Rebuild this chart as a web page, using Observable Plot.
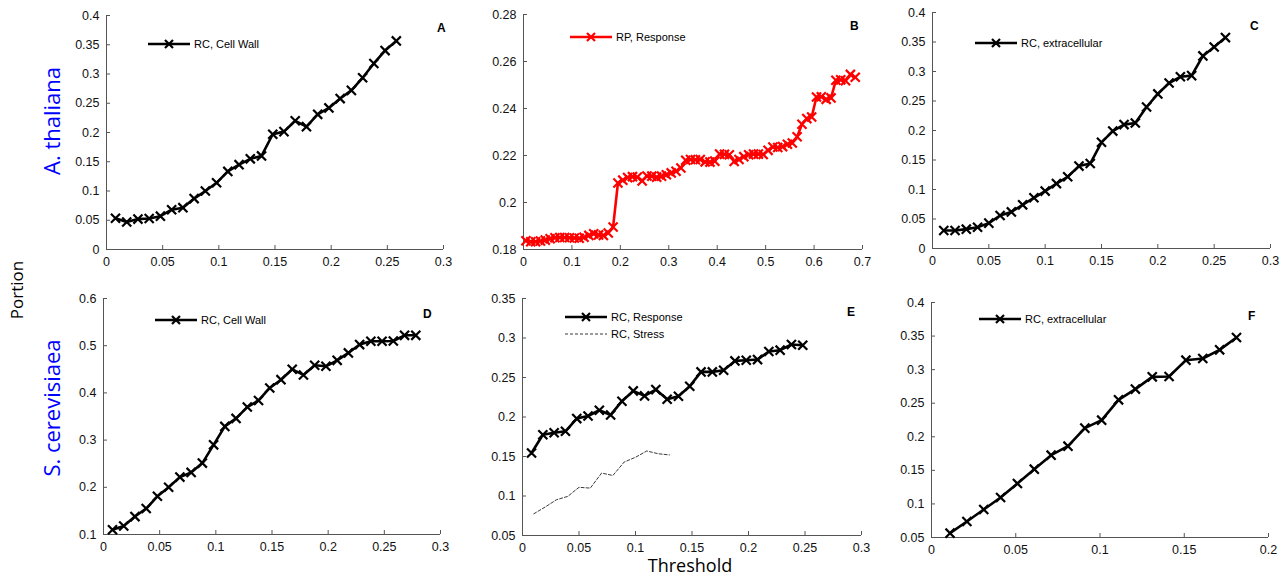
<!DOCTYPE html>
<html><head><meta charset="utf-8">
<script src="https://cdn.jsdelivr.net/npm/d3@7"></script>
<script src="https://cdn.jsdelivr.net/npm/@observablehq/plot@0.6"></script>
<style>
body{margin:0;background:#fff;}
#wrap{position:relative;width:1286px;height:578px;overflow:hidden;background:#fff;font-family:"Liberation Sans",Arial,sans-serif;}
.p{position:absolute;}
.lab{position:absolute;white-space:nowrap;line-height:1;font-family:"Open Sans","Noto Sans",sans-serif;}
.leg{position:absolute;white-space:nowrap;font-size:11px;line-height:1;display:flex;align-items:center;}
.leg svg{margin-right:4px;}
.let{position:absolute;font-weight:bold;font-size:12px;line-height:1;}
</style></head><body><div id="wrap"></div>
<script>
// ---- Panel A: A. thaliana, RC, Cell Wall ----
const xA = [0.008,0.018,0.028,0.038,0.048,0.058,0.068,0.078,0.088,0.098,0.108,0.118,0.128,0.138,0.148,0.158,0.168,0.178,0.188,0.198,0.208,0.218,0.228,0.238,0.248,0.258];
const yA = [0.0535,0.047,0.052,0.053,0.057,0.068,0.0715,0.087,0.100,0.114,0.1335,0.145,0.155,0.160,0.197,0.2015,0.220,0.210,0.231,0.242,0.258,0.272,0.2935,0.318,0.340,0.3566];
// ---- Panel B: A. thaliana, RP, Response ----
const xB = [0.005,0.015,0.025,0.035,0.045,0.055,0.065,0.075,0.085,0.095,0.105,0.115,0.125,0.135,0.145,0.155,0.165,0.175,0.185,0.195,0.205,0.215,0.225,0.235,0.245,0.255,0.265,0.275,0.285,0.295,0.305,0.315,0.325,0.335,0.345,0.355,0.365,0.375,0.385,0.395,0.405,0.415,0.425,0.435,0.445,0.455,0.465,0.475,0.485,0.495,0.505,0.515,0.525,0.535,0.545,0.555,0.565,0.575,0.585,0.595,0.605,0.615,0.625,0.635,0.645,0.655,0.665,0.675,0.685];
const yB = [0.1837,0.1833,0.1833,0.1836,0.1840,0.1846,0.1850,0.1851,0.1851,0.1850,0.1849,0.1848,0.1852,0.1860,0.1867,0.1862,0.1860,0.1870,0.1896,0.2083,0.2095,0.2106,0.2110,0.2108,0.2092,0.2113,0.2112,0.2108,0.2112,0.2118,0.2126,0.2133,0.2147,0.2180,0.2183,0.2182,0.2183,0.2173,0.2172,0.2176,0.2206,0.2205,0.2203,0.2175,0.2183,0.2195,0.2203,0.2206,0.2206,0.2204,0.2222,0.2236,0.2234,0.2238,0.2248,0.2253,0.2280,0.2333,0.2357,0.2364,0.2449,0.2450,0.2439,0.2445,0.2520,0.2522,0.2518,0.2545,0.2533];
// ---- Panel C: A. thaliana, RC, extracellular ----
const xC = [0.01,0.02,0.03,0.04,0.05,0.06,0.07,0.08,0.09,0.10,0.11,0.12,0.13,0.14,0.15,0.16,0.17,0.18,0.19,0.20,0.21,0.22,0.23,0.24,0.25,0.26];
const yC = [0.0305,0.0305,0.0328,0.036,0.043,0.056,0.062,0.074,0.086,0.0973,0.110,0.1216,0.1397,0.144,0.180,0.199,0.210,0.2127,0.2398,0.262,0.2805,0.291,0.293,0.3264,0.3416,0.3575];
// ---- Panel D: S. cerevisiaea, RC, Cell Wall ----
const xD = [0.008,0.018,0.028,0.038,0.048,0.058,0.068,0.078,0.088,0.098,0.108,0.118,0.128,0.138,0.148,0.158,0.168,0.178,0.188,0.198,0.208,0.218,0.228,0.238,0.248,0.258,0.268,0.278];
const yD = [0.110,0.118,0.138,0.155,0.181,0.200,0.2216,0.2315,0.2513,0.290,0.329,0.346,0.370,0.384,0.4105,0.428,0.450,0.438,0.4586,0.4564,0.469,0.4847,0.5024,0.5095,0.5095,0.510,0.522,0.522];
// ---- Panel E: S. cerevisiaea, RC, Response and RC, Stress ----
const xE = [0.008,0.018,0.028,0.038,0.048,0.058,0.068,0.078,0.088,0.098,0.108,0.118,0.128,0.138,0.148,0.158,0.168,0.178,0.188,0.198,0.208,0.218,0.228,0.238,0.248];
const yE = [0.1544,0.1776,0.180,0.1819,0.198,0.2013,0.2085,0.2026,0.220,0.233,0.2267,0.2347,0.2224,0.2262,0.2389,0.2571,0.2571,0.2592,0.271,0.2719,0.2727,0.2829,0.2846,0.2918,0.2909];
const xS = [0.01,0.02,0.03,0.04,0.05,0.06,0.07,0.08,0.09,0.10,0.11,0.12,0.13];
const yS = [0.0775,0.086,0.0952,0.0995,0.111,0.110,0.129,0.126,0.143,0.149,0.157,0.1535,0.152];
// ---- Panel F: S. cerevisiaea, RC, extracellular ----
const xF = [0.011,0.021,0.031,0.041,0.051,0.061,0.071,0.081,0.091,0.101,0.111,0.121,0.131,0.141,0.151,0.161,0.171,0.181];
const yF = [0.0565,0.0738,0.0917,0.1096,0.1304,0.1518,0.1726,0.186,0.2129,0.2248,0.255,0.271,0.2893,0.2898,0.3141,0.3166,0.3295,0.3479];

// tick values
const ticks03 = [0,0.05,0.1,0.15,0.2,0.25,0.3];
const ticks07 = [0,0.1,0.2,0.3,0.4,0.5,0.6,0.7];
const ticks02 = [0,0.05,0.1,0.15,0.2];
const ticks04 = [0,0.05,0.1,0.15,0.2,0.25,0.3,0.35,0.4];
const ticksB = [0.18,0.2,0.22,0.24,0.26,0.28];
const ticksD = [0.1,0.2,0.3,0.4,0.5,0.6];
const ticksE = [0.05,0.1,0.15,0.2,0.25,0.3,0.35];
const ticksF = [0.05,0.1,0.15,0.2,0.25,0.3,0.35,0.4];

const fmt = d3.format("~g");
const wrap = document.getElementById("wrap");

function zip(xs, ys){ return xs.map((x,i)=>({x, y: ys[i]})); }

function panel(cfg){
  const ML=50, MR=12, MT=10, MB=28;
  const W = ML + cfg.fw + MR, H = MT + cfg.fh + MB;
  const marks = [
    Plot.axisX({ticks: cfg.xt, tickFormat: fmt, tickSize: -4, tickPadding: 12, label: null, stroke: "#555", fontSize: 12.5}),
    Plot.axisY({ticks: cfg.yt, tickFormat: fmt, tickSize: -4, tickPadding: 11, label: null, stroke: "#555", fontSize: 12.5}),
    Plot.ruleX([cfg.xd[0]], {stroke: "#555", strokeWidth: 1}),
    Plot.ruleY([cfg.yd[0]], {stroke: "#555", strokeWidth: 1})
  ];
  for (const s of cfg.series){
    marks.push(Plot.line(s.data, {x: "x", y: "y", stroke: s.color, strokeWidth: s.sw, strokeDasharray: s.dash || null}));
    if (s.marker) marks.push(Plot.dot(s.data, {x: "x", y: "y", symbol: "times", r: 4.2, stroke: s.color, strokeWidth: 2.2}));
  }
  const svg = Plot.plot({
    width: W, height: H, marginLeft: ML, marginRight: MR, marginTop: MT, marginBottom: MB,
    style: {fontFamily: '"Liberation Sans", Arial, sans-serif', fontSize: "12.5px", color: "#111", background: "transparent", overflow: "visible"},
    x: {domain: cfg.xd}, y: {domain: cfg.yd},
    marks
  });
  svg.classList.add("p");
  svg.style.left = (cfg.fx - ML) + "px";
  svg.style.top = (cfg.fy - MT) + "px";
  wrap.appendChild(svg);
}

function legend(x, y, label, color, sw, marker, dash){
  const d = document.createElement("div");
  d.className = "leg";
  d.style.left = x + "px"; d.style.top = (y - 7) + "px";
  const ns = "http://www.w3.org/2000/svg";
  const s = document.createElementNS(ns, "svg");
  s.setAttribute("width", 42); s.setAttribute("height", 14);
  const l = document.createElementNS(ns, "line");
  l.setAttribute("x1", 0); l.setAttribute("x2", 42); l.setAttribute("y1", 7); l.setAttribute("y2", 7);
  l.setAttribute("stroke", color); l.setAttribute("stroke-width", sw);
  if (dash) l.setAttribute("stroke-dasharray", dash);
  s.appendChild(l);
  if (marker){
    const p = document.createElementNS(ns, "path");
    p.setAttribute("d", "M17,3L25,11M25,3L17,11");
    p.setAttribute("stroke", color); p.setAttribute("stroke-width", 2.2);
    s.appendChild(p);
  }
  d.appendChild(s);
  d.appendChild(document.createTextNode(label));
  wrap.appendChild(d);
}

function letter(x, y, t){
  const d = document.createElement("div");
  d.className = "let"; d.textContent = t;
  d.style.left = x + "px"; d.style.top = y + "px";
  wrap.appendChild(d);
}

function text(x, y, t, size, color, rot){
  const d = document.createElement("div");
  d.className = "lab"; d.textContent = t;
  d.style.fontSize = size + "px"; d.style.color = color;
  d.style.left = x + "px"; d.style.top = y + "px";
  d.style.transform = "translate(-50%,-50%)" + (rot ? " rotate(-90deg)" : "");
  wrap.appendChild(d);
}

panel({fx:106, fy:15, fw:337, fh:234, xd:[0,0.3], yd:[0,0.4], xt:ticks03, yt:ticks04,
  series:[{data: zip(xA,yA), color:"#000", sw:2.6, marker:true}]});
panel({fx:523, fy:14, fw:339, fh:235, xd:[0,0.7], yd:[0.18,0.28], xt:ticks07, yt:ticksB,
  series:[{data: zip(xB,yB), color:"#ff0000", sw:2.6, marker:true}]});
panel({fx:932, fy:12, fw:338, fh:236, xd:[0,0.3], yd:[0,0.4], xt:ticks03, yt:ticks04,
  series:[{data: zip(xC,yC), color:"#000", sw:2.6, marker:true}]});
panel({fx:103, fy:298, fw:337, fh:236, xd:[0,0.3], yd:[0.1,0.6], xt:ticks03, yt:ticksD,
  series:[{data: zip(xD,yD), color:"#000", sw:2.6, marker:true}]});
panel({fx:522, fy:298, fw:339, fh:237, xd:[0,0.3], yd:[0.05,0.35], xt:ticks03, yt:ticksE,
  series:[{data: zip(xE,yE), color:"#000", sw:2.6, marker:true},
          {data: zip(xS,yS), color:"#222", sw:0.9, marker:false, dash:"3,2"}]});
panel({fx:931, fy:302, fw:337, fh:235, xd:[0,0.2], yd:[0.05,0.4], xt:ticks02, yt:ticksF,
  series:[{data: zip(xF,yF), color:"#000", sw:2.6, marker:true}]});

legend(148, 44, "RC, Cell Wall", "#000", 2.6, true);
legend(570, 37, "RP, Response", "#ff0000", 2.6, true);
legend(975, 43, "RC, extracellular", "#000", 2.6, true);
legend(155, 320, "RC, Cell Wall", "#000", 2.6, true);
legend(565, 317, "RC, Response", "#000", 2.6, true);
legend(565, 334, "RC, Stress", "#222", 0.9, false, "3,2");
legend(979, 319, "RC, extracellular", "#000", 2.6, true);

letter(437, 22, "A");
letter(850, 20, "B");
letter(1250, 20, "C");
letter(423, 308, "D");
letter(847, 306, "E");
letter(1248, 310, "F");

text(51, 121, "A. thaliana", 22, "#0000ff", true);
text(51, 408, "S. cerevisiaea", 22, "#0000ff", true);
text(16, 290, "Portion", 17, "#000", true);
text(690, 565, "Threshold", 18, "#000", false);
</script></body></html>
